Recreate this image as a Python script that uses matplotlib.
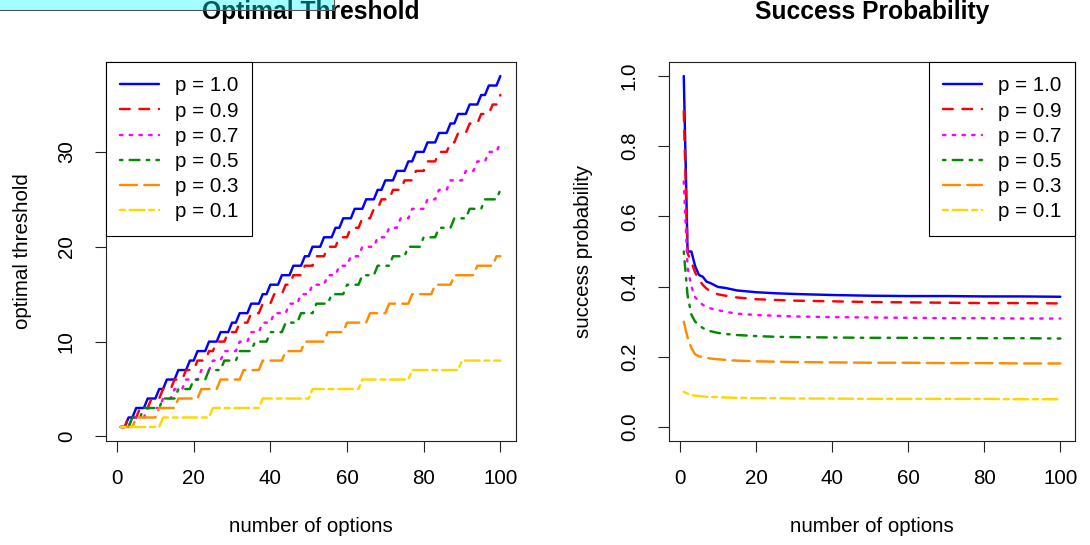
import numpy as np
import matplotlib
matplotlib.use("Agg")
import matplotlib.pyplot as plt
from matplotlib.patches import Rectangle
from matplotlib.lines import Line2D

plt.rcParams['font.family'] = ['Liberation Sans', 'DejaVu Sans']

## data

labels = ["p = 1.0", "p = 0.9", "p = 0.7", "p = 0.5", "p = 0.3", "p = 0.1"]
colors = ["blue", "red", "magenta", "#008B00", "#FF8C00", "#FFD700"]
dashes = [None, (4, 4), (1, 3), (1, 3, 4, 3), (7, 3), (2, 2, 6, 2)]

n_options = np.arange(1, 101)

# number of options at which the optimal threshold goes up by one (starts at 1)
steps_10 = [3, 5, 8, 11, 13, 16, 19, 21, 24, 27, 30, 32, 35, 38, 40, 43, 46, 49, 51,
            54, 57, 59, 62, 65, 68, 70, 73, 76, 78, 81, 84, 87, 89, 92, 95, 97, 100]
steps_09 = [3, 6, 9, 12, 15, 18, 21, 24, 26, 29, 32, 35, 38, 41, 44, 46, 49, 52,
            55, 58, 61, 64, 67, 69, 72, 75, 78, 81, 84, 87, 89, 92, 95, 98, 100]
steps_07 = [4, 8, 12, 15, 18, 22, 25, 28, 32, 35, 38, 41, 45, 48, 51, 55, 58, 61,
            64, 68, 71, 74, 77, 81, 84, 87, 91, 94, 97, 100]
steps_05 = [4, 7, 12, 16, 20, 24, 28, 32, 36, 40, 44, 48, 52, 56, 60, 64, 68, 72,
            76, 80, 84, 88, 92, 96, 100]
steps_03 = [5, 11, 16, 22, 27, 33, 38, 44, 49, 55, 60, 66, 71, 77, 83, 88, 94, 99]
steps_01 = [12, 25, 38, 51, 64, 77, 90]
threshold_steps = [steps_10, steps_09, steps_07, steps_05, steps_03, steps_01]

# success probability, read at these numbers of options
n_prob = [1, 2, 3, 4, 5, 6, 7, 8, 10, 12, 15, 20, 25, 30, 40, 50, 60, 70, 80, 90, 100]
prob_10 = [1.0, 0.5, 0.5, 0.458, 0.433, 0.428, 0.414, 0.410, 0.399, 0.396, 0.389,
           0.384, 0.381, 0.379, 0.376, 0.374, 0.373, 0.373, 0.372, 0.372, 0.371]
prob_09 = [0.9, 0.495, 0.47, 0.44, 0.42, 0.405, 0.394, 0.387, 0.378, 0.374, 0.369,
           0.364, 0.362, 0.360, 0.358, 0.356, 0.355, 0.354, 0.353, 0.353, 0.352]
prob_07 = [0.7, 0.455, 0.40, 0.37, 0.357, 0.348, 0.342, 0.338, 0.333, 0.328, 0.323,
           0.319, 0.317, 0.315, 0.313, 0.312, 0.311, 0.310, 0.310, 0.309, 0.309]
prob_05 = [0.5, 0.375, 0.32, 0.30, 0.29, 0.282, 0.277, 0.273, 0.268, 0.265, 0.262,
           0.259, 0.257, 0.256, 0.255, 0.254, 0.254, 0.253, 0.253, 0.253, 0.252]
prob_03 = [0.3, 0.255, 0.225, 0.207, 0.201, 0.199, 0.197, 0.195, 0.193, 0.191, 0.189,
           0.187, 0.186, 0.185, 0.184, 0.183, 0.183, 0.182, 0.182, 0.181, 0.181]
prob_01 = [0.1, 0.095, 0.091, 0.089, 0.088, 0.087, 0.086, 0.086, 0.085, 0.084, 0.083,
           0.082, 0.082, 0.081, 0.081, 0.080, 0.080, 0.080, 0.080, 0.079, 0.079]
success = [prob_10, prob_09, prob_07, prob_05, prob_03, prob_01]

## figure

fs = 14.8
lw = 1.75

fig = plt.figure(figsize=(10.9, 5.45), dpi=100)
ax1 = fig.add_axes([105.7 / 1090, 1 - 441 / 545, 409.8 / 1090, 379 / 545])
ax2 = fig.add_axes([668.7 / 1090, 1 - 441 / 545, 406.7 / 1090, 379 / 545])


def draw_line(ax, x, y, i):
    line, = ax.plot(x, y, color=colors[i], lw=lw, label=labels[i],
                    solid_capstyle='round', dash_capstyle='round')
    if dashes[i] is not None:
        line.set_dashes(dashes[i])


for i, st in enumerate(threshold_steps):
    thr = 1 + np.searchsorted(st, n_options, side='right')
    draw_line(ax1, n_options, thr, i)

for i, pr in enumerate(success):
    draw_line(ax2, n_prob, pr, i)

ax1.set_xlim(-2.96, 103.96)
ax1.set_ylim(-0.48, 39.48)
ax1.set_yticks([0, 10, 20, 30])
ax2.set_xlim(-2.96, 103.96)
ax2.set_ylim(-0.04, 1.04)
ax2.set_yticks([0.0, 0.2, 0.4, 0.6, 0.8, 1.0])
ax2.set_yticklabels(["0.0", "0.2", "0.4", "0.6", "0.8", "1.0"])

for ax, title, ylab in [(ax1, "Optimal Threshold", "optimal threshold"),
                        (ax2, "Success Probability", "success probability")]:
    ax.set_xticks([0, 20, 40, 60, 80, 100])
    ax.tick_params(axis='both', direction='out', length=7.7, width=0.8,
                   labelsize=fs, color='#222222')
    ax.tick_params(axis='x', pad=12.5)
    ax.tick_params(axis='y', pad=13.7, labelrotation=90)
    for lab in ax.get_yticklabels():
        lab.set_verticalalignment('center')
    for sp in ax.spines.values():
        sp.set_linewidth(0.8)
        sp.set_color('#222222')
    ax.set_title(title, fontsize=fs * 1.2, fontweight='bold', pad=30.6)
    ax.set_xlabel("number of options", fontsize=fs)
    ax.set_ylabel(ylab, fontsize=fs)
    ax.xaxis.set_label_coords(0.5, -0.2)

ax1.yaxis.set_label_coords(-0.18, 0.5)
ax2.yaxis.set_label_coords(-0.186, 0.5)

leg_kw = dict(fontsize=fs, handlelength=1.9, handletextpad=0.75, labelspacing=0.3,
              borderpad=0.7, borderaxespad=0, fancybox=False, edgecolor='black',
              framealpha=1)
leg1 = ax1.legend(loc='upper left', **leg_kw)
leg2 = ax2.legend(loc='upper right', **leg_kw)
for leg in (leg1, leg2):
    leg.get_frame().set_linewidth(0.8)

# translucent cyan bar over the top-left corner of the picture
fig.add_artist(Rectangle((0, 1 - 10 / 545), 334 / 1090, 10 / 545, transform=fig.transFigure,
                         facecolor='cyan', alpha=0.37, edgecolor='none', zorder=10))
fig.add_artist(Line2D([0, 334 / 1090, 334 / 1090], [1 - 10 / 545, 1 - 10 / 545, 1],
                      transform=fig.transFigure, color='#555555', lw=0.8, zorder=11))

fig.savefig("out.png", dpi=100)
